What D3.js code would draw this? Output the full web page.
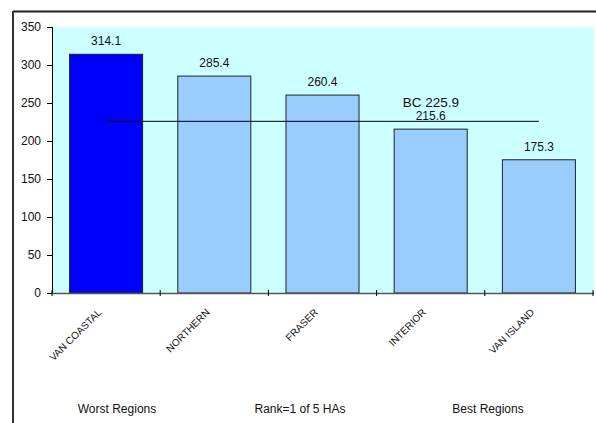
<!DOCTYPE html>
<html><head><meta charset="utf-8">
<script src="https://cdn.jsdelivr.net/npm/d3@7"></script>
<style>body{margin:0;background:#fff;font-family:Arial,"Liberation Sans",sans-serif;}</style>
</head><body><svg id="c" width="596" height="423"></svg>
<script>
const categories = ["VAN COASTAL","NORTHERN","FRASER","INTERIOR","VAN ISLAND"];
const values = [314.1, 285.4, 260.4, 215.6, 175.3];
const bcValue = 225.9;
const bcLabel = "BC 225.9";
const yTicks = [0,50,100,150,200,250,300,350];
const bottomLabels = ["Worst Regions","Rank=1 of 5 HAs","Best Regions"];

const svg = d3.select("#c");
const font = "Arial, 'Liberation Sans', sans-serif";
const L = 52, R = 593, T = 27, B = 293;

// outer frame
svg.append("line").attr("x1",13).attr("x2",13).attr("y1",11).attr("y2",423).attr("stroke","#333").attr("stroke-width",2);
svg.append("line").attr("x1",13).attr("x2",596).attr("y1",11.5).attr("y2",11.5).attr("stroke","#222").attr("stroke-width",2);

// plot background
svg.append("rect").attr("x",L).attr("y",T).attr("width",594-L).attr("height",B-T).attr("fill","#CCFFFF");

const x = d3.scaleBand().domain(categories).range([L,R]).paddingInner(0.325).paddingOuter(0.1625);
const y = d3.scaleLinear().domain([0,350]).range([B,T]);

// bars
svg.selectAll("rect.bar").data(values).enter().append("rect")
  .attr("class","bar")
  .attr("x",(d,i)=>x(categories[i]))
  .attr("width",x.bandwidth())
  .attr("y",d=>y(d))
  .attr("height",d=>B-y(d))
  .attr("fill",(d,i)=>i===0?"#0000FF":"#99CCFF")
  .attr("stroke","#222").attr("stroke-width",1);

// value labels
svg.selectAll("text.val").data(values).enter().append("text")
  .attr("x",(d,i)=>x(categories[i])+x.bandwidth()/2)
  .attr("y",d=>y(d)-9)
  .attr("text-anchor","middle").attr("font-family",font).attr("font-size",12).attr("fill","#111")
  .text(d=>d.toFixed(1));

// BC line
const bcX1 = x(categories[0]) + x.bandwidth()/2;
const bcX2 = x(categories[4]) + x.bandwidth()/2;
svg.append("line").attr("x1",bcX1).attr("x2",bcX2).attr("y1",y(bcValue)).attr("y2",y(bcValue)).attr("stroke","#000").attr("stroke-width",1);
svg.append("text").attr("x",431).attr("y",y(bcValue)-14).attr("text-anchor","middle")
  .attr("font-family",font).attr("font-size",13.5).attr("fill","#111").text(bcLabel);

// y axis
const yAxis = svg.append("g").attr("transform",`translate(${L},0)`)
  .call(d3.axisLeft(y).tickValues(yTicks).tickSize(5).tickSizeOuter(0));
yAxis.select(".domain").attr("stroke","#000");
yAxis.selectAll(".tick line").attr("stroke","#000").attr("x2",-5).attr("x1",1);
yAxis.selectAll(".tick text").attr("x",-11).attr("font-family",font).attr("font-size",12).attr("fill","#111");

// x axis line and boundary ticks
svg.append("line").attr("x1",L).attr("x2",594).attr("y1",B+0.5).attr("y2",B+0.5).attr("stroke","#555").attr("stroke-width",1.5);
const bounds = d3.range(categories.length+1).map(i=>L + i*(R-L)/categories.length);
svg.selectAll("line.xt").data(bounds).enter().append("line")
  .attr("x1",d=>d).attr("x2",d=>d).attr("y1",B-3).attr("y2",B+3).attr("stroke","#000");

// x category labels rotated
svg.selectAll("text.cat").data(categories).enter().append("text")
  .attr("transform",d=>`translate(${x(d)+x.bandwidth()/2-4},${B+20}) rotate(-45)`)
  .attr("text-anchor","end").attr("font-family",font).attr("font-size",10).attr("fill","#111")
  .text(d=>d);

// bottom labels
const bx = [117, 300, 488];
svg.selectAll("text.bot").data(bottomLabels).enter().append("text")
  .attr("x",(d,i)=>bx[i]).attr("y",413).attr("text-anchor","middle")
  .attr("font-family",font).attr("font-size",12).attr("fill","#111").text(d=>d);
</script></body></html>
